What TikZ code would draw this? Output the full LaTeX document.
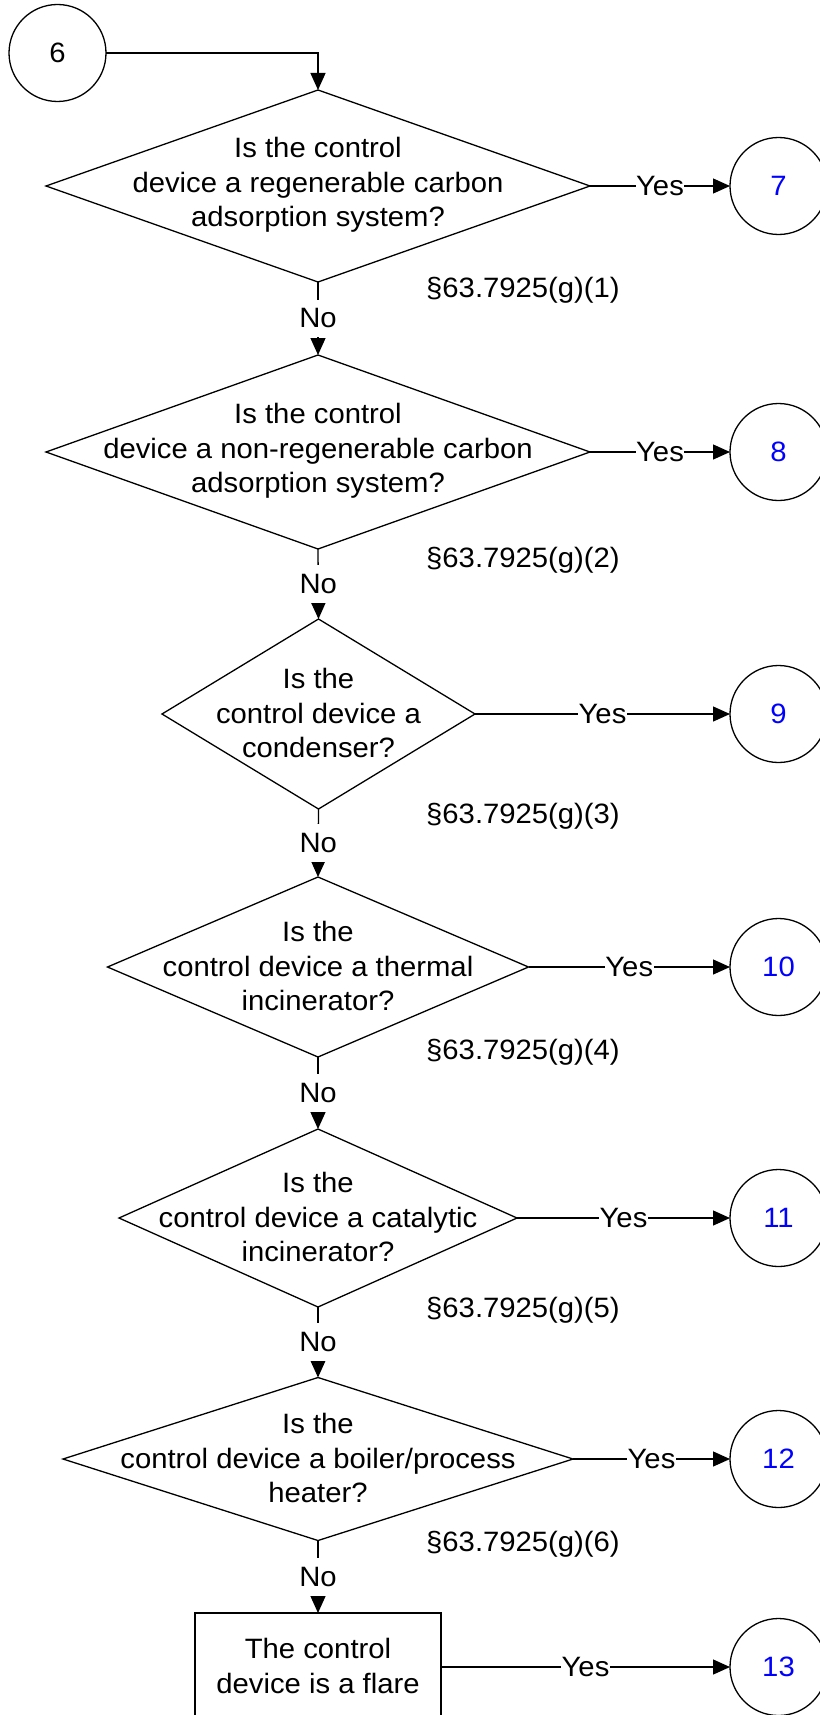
\documentclass[tikz,border=0pt]{standalone}
\usepackage{fontspec}
\setmainfont[FakeStretch=1.045]{Liberation Sans}
\usetikzlibrary{shapes.geometric,arrows.meta}
\definecolor{numblue}{RGB}{0,0,255}
\begin{document}
\begin{tikzpicture}[x=1pt,y=-1pt,
  every node/.style={font=\fontsize{28}{34.5}\selectfont},
  dia/.style={draw, shape=diamond, inner sep=0pt, outer sep=0pt, line width=1.3pt},
  boxnode/.style={draw, rectangle, inner sep=0pt, outer sep=0pt, line width=1.3pt},
  txt/.style={align=center, inner sep=0pt},
  conn/.style={draw, shape=circle, minimum size=97pt, inner sep=0pt, outer sep=0pt, line width=1.3pt},
  num/.style={conn, text=numblue},
  arr/.style={-{Triangle[length=17pt,width=15pt]}, line width=1.3pt},
  nolbl/.style={fill=white, inner xsep=1pt, inner ysep=9pt},
  yeslbl/.style={fill=white, inner xsep=0.5pt, inner ysep=4pt},
  refl/.style={anchor=base west, inner sep=0pt}]
\useasboundingbox (0,0) rectangle (819,1715);

% start connector
\node[conn] (c6) at (57.5,53) {6};

% decisions
\node[dia, minimum width=544pt, minimum height=192pt] (d1) at (318,186) {};
\node[txt] (t1) at (318,185) {Is the control\\device a regenerable carbon\\adsorption system?};
\node[num] (c7) at (778.5,186) {7};
\node[refl] (r1) at (426,297) {§63.7925(g)(1)};

\node[dia, minimum width=544pt, minimum height=194pt] (d2) at (318,452) {};
\node[txt] (t2) at (318,451) {Is the control\\device a non-regenerable carbon\\adsorption system?};
\node[num] (c8) at (778.5,452) {8};
\node[refl] (r2) at (426,567) {§63.7925(g)(2)};

\node[dia, minimum width=313pt, minimum height=190pt] (d3) at (318.5,714) {};
\node[txt] (t3) at (318.5,713) {Is the\\control device a\\condenser?};
\node[num] (c9) at (778.5,714) {9};
\node[refl] (r3) at (426,823) {§63.7925(g)(3)};

\node[dia, minimum width=421pt, minimum height=180pt] (d4) at (318,967) {};
\node[txt] (t4) at (318,966) {Is the\\control device a thermal\\incinerator?};
\node[num] (c10) at (778.5,967) {10};
\node[refl] (r4) at (426,1059) {§63.7925(g)(4)};

\node[dia, minimum width=398pt, minimum height=178pt] (d5) at (318,1218) {};
\node[txt] (t5) at (318,1217) {Is the\\control device a catalytic\\incinerator?};
\node[num] (c11) at (778.5,1218) {11};
\node[refl] (r5) at (426,1317) {§63.7925(g)(5)};

\node[dia, minimum width=510pt, minimum height=163pt] (d6) at (318,1459) {};
\node[txt] (t6) at (318,1458) {Is the\\control device a boiler/process\\heater?};
\node[num] (c12) at (778.5,1459) {12};
\node[refl] (r6) at (426,1551) {§63.7925(g)(6)};

\node[boxnode, minimum width=246pt, minimum height=108pt] (fl) at (318,1667) {};
\node[txt] (t7) at (318,1666) {The control\\device is a flare};
\node[num] (c13) at (778.5,1667) {13};

% connectors
\draw[arr] (c6.east) -| (d1.north);
\draw[arr] (d1.south) -- node[nolbl] {No} (d2.north);
\draw[arr] (d2.south) -- node[nolbl] {No} (d3.north);
\draw[arr] (d3.south) -- node[nolbl] {No} (d4.north);
\draw[arr] (d4.south) -- node[nolbl] {No} (d5.north);
\draw[arr] (d5.south) -- node[nolbl] {No} (d6.north);
\draw[arr] (d6.south) -- node[nolbl] {No} (fl.north);

\draw[arr] (d1.east) -- node[yeslbl] {Yes} (c7.west);
\draw[arr] (d2.east) -- node[yeslbl] {Yes} (c8.west);
\draw[arr] (d3.east) -- node[yeslbl] {Yes} (c9.west);
\draw[arr] (d4.east) -- node[yeslbl] {Yes} (c10.west);
\draw[arr] (d5.east) -- node[yeslbl] {Yes} (c11.west);
\draw[arr] (d6.east) -- node[yeslbl] {Yes} (c12.west);
\draw[arr] (fl.east) -- node[yeslbl] {Yes} (c13.west);
\end{tikzpicture}
\end{document}
